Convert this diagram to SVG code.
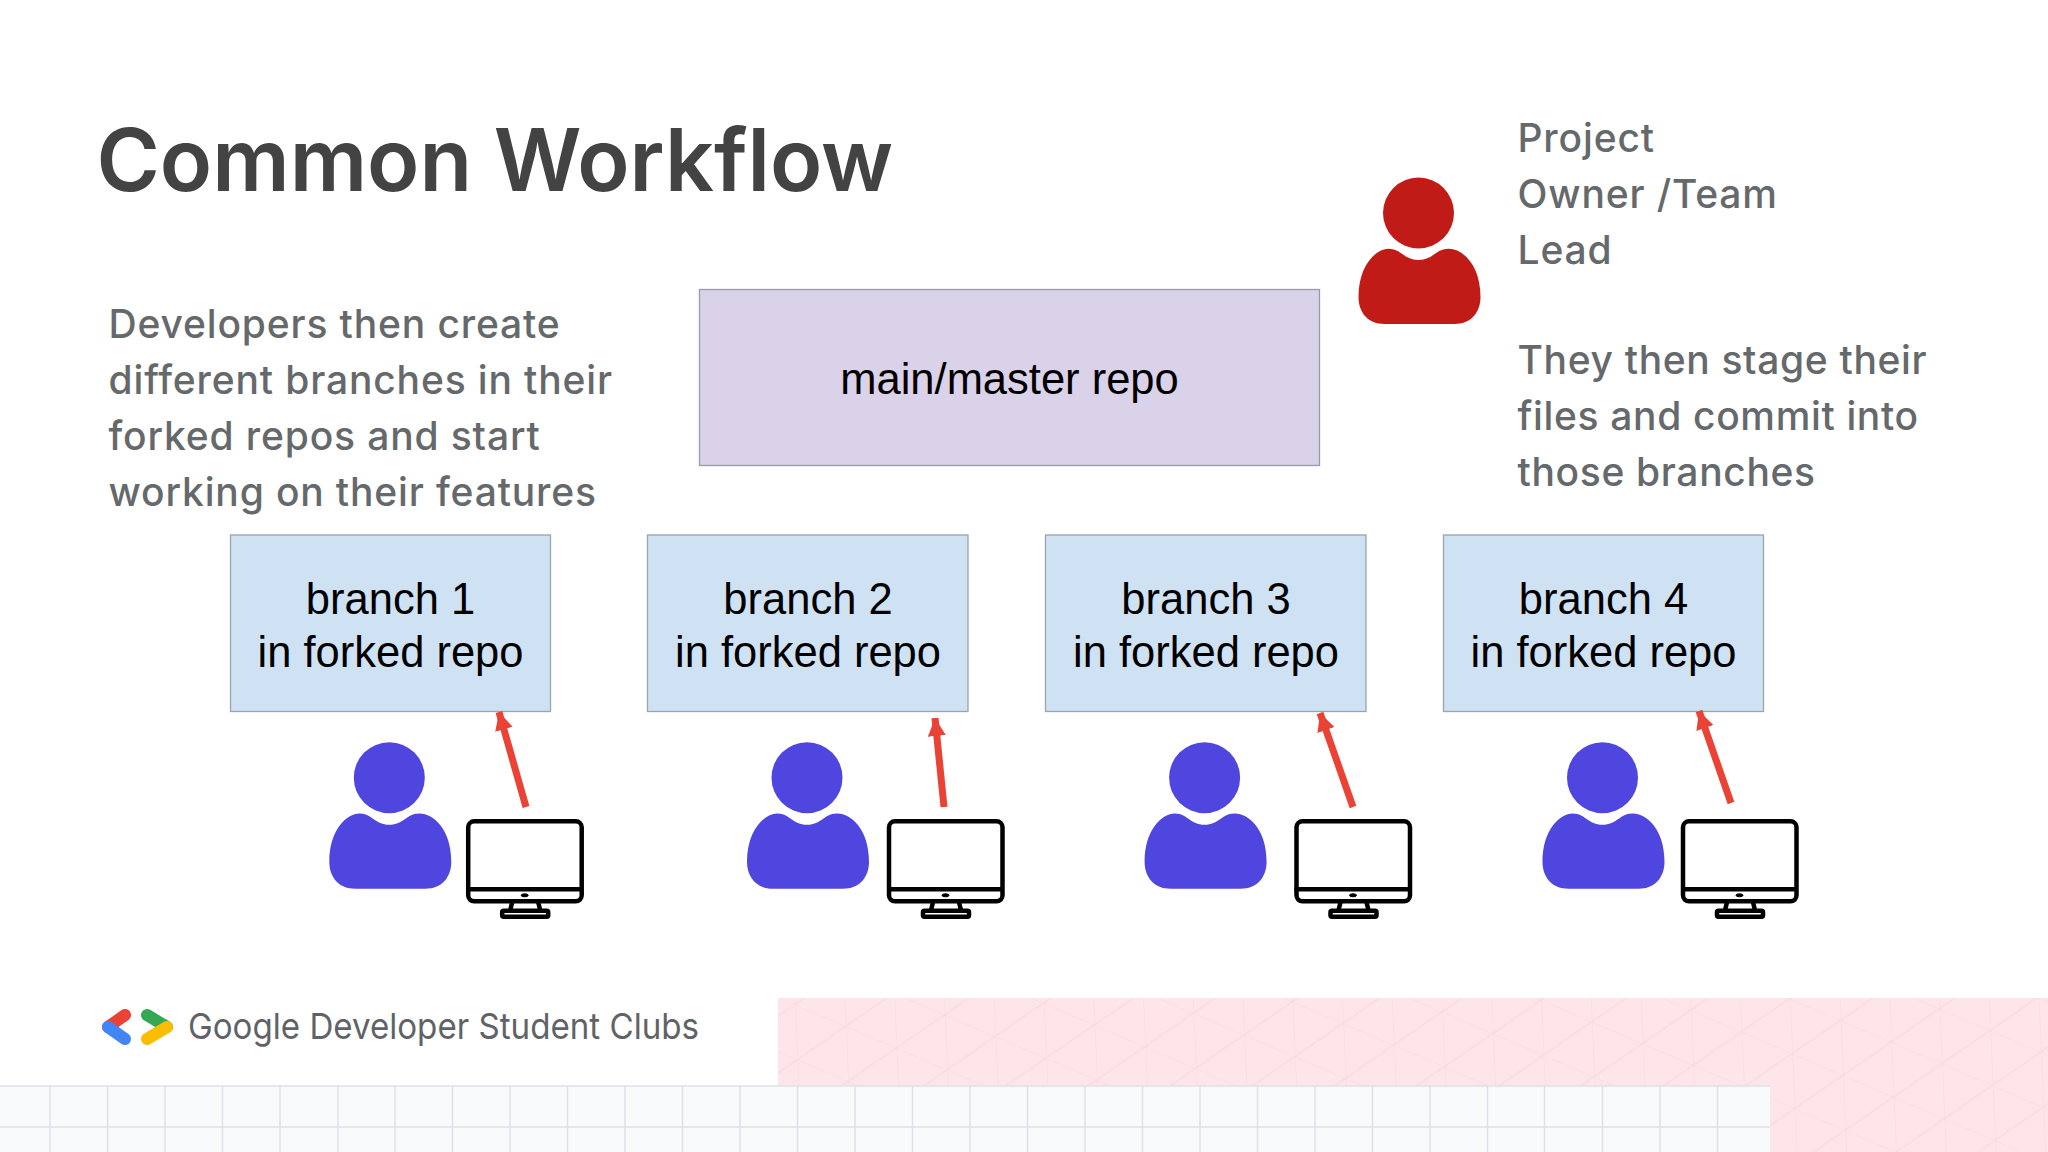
<svg xmlns="http://www.w3.org/2000/svg" width="2048" height="1152" viewBox="0 0 2048 1152">
<style>
.title{font:600 86px Inter,"Noto Sans",sans-serif;fill:#434343}
.side{font:500 39px Inter,"Noto Sans",sans-serif;fill:#66696c;letter-spacing:.85px}
.rt{letter-spacing:.65px}
.box{font:43.500px "Liberation Sans",Arial,sans-serif;fill:#000;text-anchor:middle}
.main{fill:#d9d2e9;stroke:#9a9aa8;stroke-width:1.3}
.branch{fill:#cfe2f3;stroke:#98a4ae;stroke-width:1.3}
.dev{fill:#4f46df}
.arrow{stroke:#ea4335;stroke-width:7;fill:none;marker-end:url(#ah)}
.gl{stroke:#dde1ea;stroke-width:1.5}
.mon{fill:none;stroke:#000;stroke-width:4.500}
</style>
<defs>
<marker id="ah" markerUnits="userSpaceOnUse" markerWidth="20" markerHeight="22" refX="18" refY="9" orient="auto"><path d="M0 0L18 9L0 18Z" fill="#ea4335"/></marker>
<pattern id="tri" patternUnits="userSpaceOnUse" width="100" height="100" patternTransform="matrix(.507 .217 .024 .55 1541.2 1000)">
<path d="M0 0H100M0 0V100M0 100L100 0" stroke="#f8d9e0" stroke-width="2" fill="none"/>
</pattern>
<path id="body" d="M-28 36C-18 36-14 47 0 47C14 47 18 36 28 36C42 34 62 50 62 84C62 100 52 111 36 111H-34C-50 111-60 100-60 84C-60 50-40 34-28 36Z"/>
<g id="person"><circle r="35.500"/><use href="#body"/></g>
<g id="monitor" class="mon">
<rect x="2" y="2" width="113.500" height="80" rx="6"/>
<path d="M0 70H117"/>
<path d="M46 83L44 91M72 83L74 91"/>
<rect x="36" y="91.500" width="46" height="6" rx="1.500"/>
<ellipse cx="58.500" cy="76" rx="3.500" ry="1.500" fill="#000" stroke-width="1"/>
</g>
</defs>
<rect width="2048" height="1152" fill="#fff"/>
<g id="background">
<rect x="778" y="998" width="1270" height="154" fill="#fde5ea"/>
<rect x="778" y="998" width="1270" height="154" fill="url(#tri)"/>
<rect x="0" y="1086" width="1770" height="66" fill="#f9fafb"/>
<path class="gl" d="M0 1086H1770M0 1127H1770M50 1086V1152M107.600 1086V1152M165 1086V1152M222.500 1086V1152M280 1086V1152M338 1086V1152M395 1086V1152M452.500 1086V1152M510 1086V1152M567.500 1086V1152M625 1086V1152M682.500 1086V1152M740 1086V1152M797.500 1086V1152M855 1086V1152M912.500 1086V1152M970 1086V1152M1027.500 1086V1152M1085 1086V1152M1142.500 1086V1152M1200 1086V1152M1257.500 1086V1152M1315 1086V1152M1372.500 1086V1152M1430 1086V1152M1487.500 1086V1152M1544.500 1086V1152M1602.500 1086V1152M1660 1086V1152M1717.500 1086V1152"/>
</g>
<text class="title" x="96.500" y="190.500">Common Workflow</text>
<g id="left-note">
<text class="side" x="108.500" y="338">Developers then create</text>
<text class="side" x="108.500" y="394">different branches in their</text>
<text class="side" x="108.500" y="450">forked repos and start</text>
<text class="side" x="108.500" y="506">working on their features</text>
</g>
<g id="right-note">
<text class="side" x="1517.500" y="152">Project</text>
<text class="side" x="1517.500" y="208">Owner /Team</text>
<text class="side" x="1517.500" y="264">Lead</text>
<text class="side rt" x="1517.500" y="374">They then stage their</text>
<text class="side rt" x="1517.500" y="430">files and commit into</text>
<text class="side rt" x="1517.500" y="486">those branches</text>
</g>
<g id="main-repo"><rect class="main" x="699.500" y="289.500" width="620" height="176"/><text class="box" x="1009.500" y="393.500">main/master repo</text></g>
<g id="branch-1"><rect class="branch" x="230.500" y="535" width="320" height="176.500"/><text class="box" x="390.500" y="613.500">branch 1</text><text class="box" x="390.500" y="666.500">in forked repo</text></g>
<g id="branch-2"><rect class="branch" x="647.500" y="535" width="320.500" height="176.500"/><text class="box" x="808" y="613.500">branch 2</text><text class="box" x="808" y="666.500">in forked repo</text></g>
<g id="branch-3"><rect class="branch" x="1045.500" y="535" width="320.500" height="176.500"/><text class="box" x="1206" y="613.500">branch 3</text><text class="box" x="1206" y="666.500">in forked repo</text></g>
<g id="branch-4"><rect class="branch" x="1443.500" y="535" width="320" height="176.500"/><text class="box" x="1603.500" y="613.500">branch 4</text><text class="box" x="1603.500" y="666.500">in forked repo</text></g>
<g id="owner" fill="#c11b17"><use href="#person" x="1418.500" y="213"/></g>
<g id="dev-1" class="dev"><use href="#person" x="389.300" y="777.700"/><use href="#monitor" x="466.200" y="819.300"/></g>
<g id="dev-2" class="dev"><use href="#person" x="807" y="777.700"/><use href="#monitor" x="887" y="819.300"/></g>
<g id="dev-3" class="dev"><use href="#person" x="1204.600" y="777.700"/><use href="#monitor" x="1294.500" y="819.300"/></g>
<g id="dev-4" class="dev"><use href="#person" x="1602.500" y="777.700"/><use href="#monitor" x="1681" y="819.300"/></g>
<g id="connectors">
<path class="arrow" d="M526 807L499 712"/>
<path class="arrow" d="M944 807L935 718"/>
<path class="arrow" d="M1353 807L1320 713"/>
<path class="arrow" d="M1731 803L1699 711"/>
</g>
<g id="logo" fill="none" stroke-width="12" stroke-linecap="round">
<path d="M125 1015L108 1027" stroke="#ea4335"/>
<path d="M108 1027L125 1039" stroke="#4285f4"/>
<path d="M147 1015L167 1027" stroke="#34a853"/>
<path d="M167 1027L147 1039" stroke="#fbbc04"/>
</g>
<text x="188" y="1038.500" font-family="Inter,'Noto Sans',sans-serif" font-size="36" fill="#5f6368" textLength="511" lengthAdjust="spacingAndGlyphs">Google Developer Student Clubs</text>
</svg>
